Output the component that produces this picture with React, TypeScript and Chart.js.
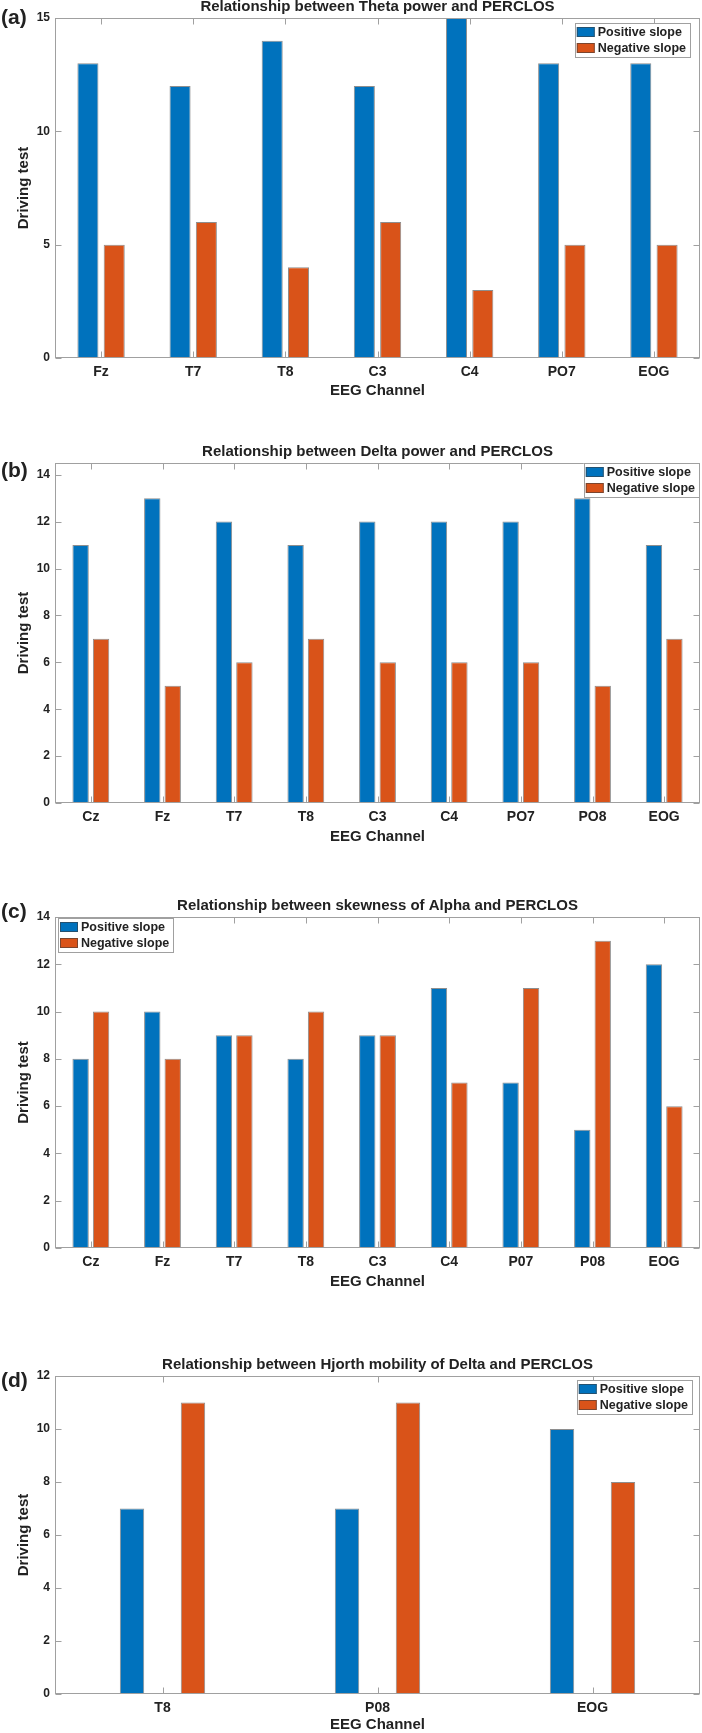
import React, { useEffect, useRef } from "react";
import { Chart, registerables } from "chart.js";

Chart.register(...registerables);

// ---------- data ----------
const seriesNames = ["Positive slope", "Negative slope"];

const thetaChannels = ["Fz", "T7", "T8", "C3", "C4", "PO7", "EOG"];
const thetaPositive = [13, 12, 14, 12, 15, 13, 13];
const thetaNegative = [5, 6, 4, 6, 3, 5, 5];

const deltaChannels = ["Cz", "Fz", "T7", "T8", "C3", "C4", "PO7", "PO8", "EOG"];
const deltaPositive = [11, 13, 12, 11, 12, 12, 12, 13, 11];
const deltaNegative = [7, 5, 6, 7, 6, 6, 6, 5, 7];

const skewChannels = ["Cz", "Fz", "T7", "T8", "C3", "C4", "P07", "P08", "EOG"];
const skewPositive = [8, 10, 9, 8, 9, 11, 7, 5, 12];
const skewNegative = [10, 8, 9, 10, 9, 7, 11, 13, 6];

const hjorthChannels = ["T8", "P08", "EOG"];
const hjorthPositive = [7, 7, 10];
const hjorthNegative = [11, 11, 8];

const titles = [
  "Relationship between Theta power and PERCLOS",
  "Relationship between Delta power and PERCLOS",
  "Relationship between skewness of Alpha and PERCLOS",
  "Relationship between Hjorth mobility of Delta and PERCLOS",
];
const letters = ["(a)", "(b)", "(c)", "(d)"];
const yMaxes = [15, 14.5, 14, 12];
const ySteps = [5, 2, 2, 2];
const xAxisTitle = "EEG Channel";
const yAxisTitle = "Driving test";

// ---------- styling ----------
const BLUE = "#0072BD";
const ORANGE = "#D95319";
const AXIS = "#a0a0a0";
const TEXT = "#222222";
const FONT = '"Liberation Sans", Arial, Helvetica, sans-serif';

type PanelCfg = {
  letter: string;
  title: string;
  labels: string[];
  pos: number[];
  neg: number[];
  yMax: number;
  yStep: number;
  canvasTop: number;
  canvasHeight: number;
  plotTop: number;
  plotBottom: number;
  letterDy: number;
  catPct: number;
  barPct: number;
  legend: { side: "left" | "right"; dx: number; dy: number };
  xTitleDy: number;
};

const panels: PanelCfg[] = [
  {
    letter: letters[0], title: titles[0], labels: thetaChannels, pos: thetaPositive, neg: thetaNegative,
    yMax: yMaxes[0], yStep: ySteps[0], canvasTop: 0, canvasHeight: 420, plotTop: 18, plotBottom: 358,
    letterDy: 0, catPct: 0.571, barPct: 0.8, legend: { side: "right", dx: 10, dy: 5 }, xTitleDy: 33,
  },
  {
    letter: letters[1], title: titles[1], labels: deltaChannels, pos: deltaPositive, neg: deltaNegative,
    yMax: yMaxes[1], yStep: ySteps[1], canvasTop: 425, canvasHeight: 440, plotTop: 463, plotBottom: 803,
    letterDy: 8, catPct: 0.571, barPct: 0.8, legend: { side: "right", dx: 1, dy: 0 }, xTitleDy: 34,
  },
  {
    letter: letters[2], title: titles[2], labels: skewChannels, pos: skewPositive, neg: skewNegative,
    yMax: yMaxes[2], yStep: ySteps[2], canvasTop: 870, canvasHeight: 440, plotTop: 917, plotBottom: 1248,
    letterDy: -5, catPct: 0.571, barPct: 0.8, legend: { side: "left", dx: 3, dy: 1 }, xTitleDy: 34,
  },
  {
    letter: letters[3], title: titles[3], labels: hjorthChannels, pos: hjorthPositive, neg: hjorthNegative,
    yMax: yMaxes[3], yStep: ySteps[3], canvasTop: 1320, canvasHeight: 413, plotTop: 1376, plotBottom: 1694,
    letterDy: 5, catPct: 0.567, barPct: 0.4, legend: { side: "right", dx: 8, dy: 4 }, xTitleDy: 31,
  },
];

function makeDecorPlugin(cfg: PanelCfg) {
  return {
    id: "matlabDecor",
    afterDraw(chart: any) {
      const ctx: CanvasRenderingContext2D = chart.ctx;
      const ca = chart.chartArea;
      const xs = chart.scales.x;
      const ys = chart.scales.y;
      ctx.save();

      // frame
      ctx.strokeStyle = AXIS;
      ctx.lineWidth = 1;
      const L = Math.round(ca.left) + 0.5;
      const R = Math.round(ca.right) - 0.5;
      const T = Math.round(ca.top) + 0.5;
      const B = Math.round(ca.bottom) - 0.5;
      ctx.strokeRect(L, T, R - L, B - T);

      // inward ticks
      ctx.beginPath();
      xs.ticks.forEach((_t: any, i: number) => {
        const x = Math.round(xs.getPixelForTick(i)) + 0.5;
        ctx.moveTo(x, B);
        ctx.lineTo(x, B - 6);
        ctx.moveTo(x, T);
        ctx.lineTo(x, T + 6);
      });
      ys.ticks.forEach((t: any) => {
        const y = Math.round(ys.getPixelForValue(t.value)) + 0.5;
        ctx.moveTo(L, y);
        ctx.lineTo(L + 6, y);
        ctx.moveTo(R, y);
        ctx.lineTo(R - 6, y);
      });
      ctx.stroke();

      ctx.fillStyle = TEXT;
      // title
      ctx.font = `bold 15px ${FONT}`;
      ctx.textAlign = "center";
      ctx.textBaseline = "middle";
      ctx.fillText(cfg.title, (ca.left + ca.right) / 2, ca.top - 11);

      // panel letter
      ctx.font = `bold 21px ${FONT}`;
      ctx.textAlign = "left";
      ctx.fillText(cfg.letter, 1, ca.top + cfg.letterDy);

      // x axis title
      ctx.font = `bold 15px ${FONT}`;
      ctx.textAlign = "center";
      ctx.fillText(xAxisTitle, (ca.left + ca.right) / 2, ca.bottom + cfg.xTitleDy);

      // y axis title
      ctx.save();
      ctx.translate(24, (ca.top + ca.bottom) / 2);
      ctx.rotate(-Math.PI / 2);
      ctx.fillText(yAxisTitle, 0, 0);
      ctx.restore();

      // legend
      ctx.font = `bold 12.5px ${FONT}`;
      const textW = Math.max(...seriesNames.map((n) => ctx.measureText(n).width));
      const sw = 18;
      const w = 2 + sw + 3 + textW + 4;
      const h = 34;
      const left = cfg.legend.side === "right" ? ca.right - cfg.legend.dx - w : ca.left + cfg.legend.dx;
      const top = ca.top + cfg.legend.dy;
      ctx.fillStyle = "#ffffff";
      ctx.fillRect(left, top, w, h);
      ctx.strokeStyle = AXIS;
      ctx.strokeRect(Math.round(left) + 0.5, Math.round(top) + 0.5, Math.round(w), Math.round(h));
      const colors = [BLUE, ORANGE];
      seriesNames.forEach((name, i) => {
        const cy = top + 9 + i * 16;
        ctx.fillStyle = colors[i];
        ctx.fillRect(left + 2, cy - 5, sw, 10);
        ctx.strokeStyle = "rgba(60,60,60,0.6)";
        ctx.strokeRect(left + 2.5, cy - 4.5, sw - 1, 9);
        ctx.fillStyle = TEXT;
        ctx.textAlign = "left";
        ctx.textBaseline = "middle";
        ctx.fillText(name, left + 2 + sw + 3, cy + 0.5);
      });

      ctx.restore();
    },
  };
}

function PanelChart({ cfg }: { cfg: PanelCfg }) {
  const ref = useRef<HTMLCanvasElement | null>(null);
  useEffect(() => {
    if (!ref.current) return;
    const xHeight = cfg.canvasTop + cfg.canvasHeight - cfg.plotBottom;
    const chart = new Chart(ref.current, {
      type: "bar",
      data: {
        labels: cfg.labels,
        datasets: [
          {
            label: seriesNames[0],
            data: cfg.pos,
            backgroundColor: BLUE,
            borderColor: "rgba(50,50,50,0.55)",
            borderWidth: 1,
            categoryPercentage: cfg.catPct,
            barPercentage: cfg.barPct,
          },
          {
            label: seriesNames[1],
            data: cfg.neg,
            backgroundColor: ORANGE,
            borderColor: "rgba(50,50,50,0.55)",
            borderWidth: 1,
            categoryPercentage: cfg.catPct,
            barPercentage: cfg.barPct,
          },
        ],
      },
      options: {
        responsive: false,
        maintainAspectRatio: false,
        animation: false,
        devicePixelRatio: 1,
        layout: { padding: { top: cfg.plotTop - cfg.canvasTop, left: 0, right: 2, bottom: 0 } },
        plugins: {
          legend: { display: false },
          title: { display: false },
          tooltip: { enabled: false },
        },
        scales: {
          x: {
            offset: true,
            grid: { display: false, drawTicks: false },
            border: { display: false },
            ticks: {
              padding: 6,
              color: TEXT,
              font: { family: FONT, size: 14, weight: "bold" },
              maxRotation: 0,
              autoSkip: false,
            },
            afterFit: (s: any) => {
              s.height = xHeight;
            },
          },
          y: {
            min: 0,
            max: cfg.yMax,
            bounds: "data",
            grid: { display: false, drawTicks: false },
            border: { display: false },
            ticks: {
              stepSize: cfg.yStep,
              includeBounds: false,
              padding: 5,
              color: TEXT,
              font: { family: FONT, size: 12, weight: "bold" },
            },
            afterFit: (s: any) => {
              s.width = 55;
            },
          },
        },
      },
      plugins: [makeDecorPlugin(cfg)],
    } as any);
    return () => chart.destroy();
  }, [cfg]);
  return (
    <canvas
      ref={ref}
      width={702}
      height={cfg.canvasHeight}
      style={{ position: "absolute", left: 0, top: cfg.canvasTop, width: 702, height: cfg.canvasHeight, display: "block" }}
    />
  );
}

export default function App() {
  return (
    <div style={{ position: "absolute", left: 0, top: 0, width: 702, height: 1733, background: "#ffffff" }}>
      {panels.map((p) => (
        <PanelChart key={p.letter} cfg={p} />
      ))}
    </div>
  );
}
